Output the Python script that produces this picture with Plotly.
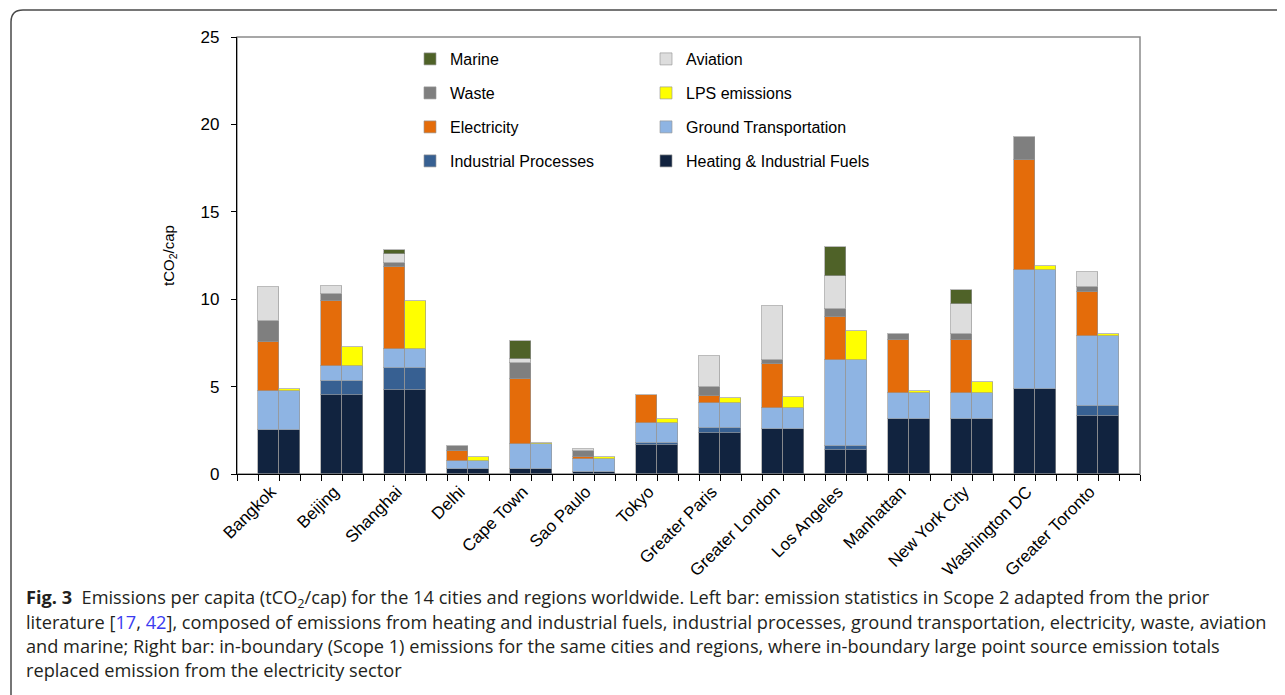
import plotly.graph_objects as go

cities = ["Bangkok", "Beijing", "Shanghai", "Delhi", "Cape Town", "Sao Paulo", "Tokyo",
          "Greater Paris", "Greater London", "Los Angeles", "Manhattan", "New York City",
          "Washington DC", "Greater Toronto"]

heating = [2.50, 4.52, 4.82, 0.30, 0.30, 0.13, 1.68, 2.33, 2.59, 1.39, 3.15, 3.15, 4.85, 3.32]
industrial = [0, 0.80, 1.24, 0, 0, 0, 0.11, 0.32, 0, 0.21, 0, 0, 0, 0.57]
ground = [2.25, 0.88, 1.11, 0.43, 1.42, 0.71, 1.14, 1.39, 1.20, 4.90, 1.50, 1.50, 6.84, 4.02]
electricity = [2.78, 3.70, 4.67, 0.59, 3.71, 0.15, 1.59, 0.44, 2.50, 2.46, 3.02, 3.02, 6.29, 2.49]
waste = [1.24, 0.40, 0.23, 0.30, 0.90, 0.33, 0, 0.50, 0.23, 0.48, 0.36, 0.36, 1.32, 0.32]
aviation = [1.93, 0.44, 0.53, 0, 0.27, 0.09, 0, 1.77, 3.11, 1.87, 0, 1.71, 0, 0.82]
marine = [0, 0, 0.20, 0, 0.99, 0, 0, 0, 0, 1.69, 0, 0.77, 0, 0]
lps = [0.12, 1.08, 2.73, 0.26, 0.05, 0.13, 0.23, 0.33, 0.61, 1.66, 0.08, 0.63, 0.21, 0.08]

y_ticks = [0, 5, 10, 15, 20, 25]

# slot layout: one empty slot, then (left bar, right bar, gap) per city
left_x = [1 + 3 * i for i in range(len(cities))]
right_x = [2 + 3 * i for i in range(len(cities))]
center_x = [1.5 + 3 * i for i in range(len(cities))]

# page body has an 8px margin; size the figure so it fits the window exactly
OFF = 8
W, H = 1285 - OFF, 695 - OFF
# plot area in window pixels
L, R, T, B = 237, 1140, 37, 474


def px(xp):
    return (xp - L) / (R - L)


def py(yp):
    return (B - yp) / (B - T)


def nz(vals):
    return [v if v > 0 else None for v in vals]


edge = dict(color="rgba(150,150,150,0.65)", width=1)

series = [
    # name, values, bars, color, legend, rank
    ("Heating & Industrial Fuels", heating, "both", "#11233F", "legend2", 4),
    ("Industrial Processes", industrial, "both", "#376092", "legend", 4),
    ("Ground Transportation", ground, "both", "#8EB4E3", "legend2", 3),
    ("Electricity", electricity, "left", "#E46C0A", "legend", 3),
    ("LPS emissions", lps, "right", "#FFFF00", "legend2", 2),
    ("Waste", waste, "left", "#7F7F7F", "legend", 2),
    ("Aviation", aviation, "left", "#DDDDDD", "legend2", 1),
    ("Marine", marine, "left", "#4F6228", "legend", 1),
]

fig = go.Figure()
for name, vals, which, color, lg, rank in series:
    if which == "both":
        xs = left_x + right_x
        ys = nz(vals) + nz(vals)
    elif which == "left":
        xs = left_x
        ys = nz(vals)
    else:
        xs = right_x
        ys = nz(vals)
    fig.add_trace(go.Bar(
        x=xs, y=ys, name=name, width=1.0,
        marker=dict(color=color, line=edge),
        legend=lg, legendgroup=name, legendrank=rank,
        hoverinfo="skip",
    ))

legend_common = dict(
    traceorder="grouped", tracegroupgap=10.2,
    font=dict(family="Liberation Sans, Arial, sans-serif", size=16, color="#000000"),
    bgcolor="rgba(0,0,0,0)", itemwidth=30, xanchor="left", yanchor="top",
)

caption_lines = [
    "<b>Fig. 3</b>  Emissions per capita (tCO<sub>2</sub>/cap) for the 14 cities and regions worldwide. "
    "Left bar: emission statistics in Scope 2 adapted from the prior",
    "literature [<span style='color:#3b3bf0'>17</span>, <span style='color:#3b3bf0'>42</span>], "
    "composed of emissions from heating and industrial fuels, industrial processes, ground transportation, "
    "electricity, waste, aviation",
    "and marine; Right bar: in-boundary (Scope 1) emissions for the same cities and regions, "
    "where in-boundary large point source emission totals",
    "replaced emission from the electricity sector",
]
caption_y = [598, 622, 646, 670]

annotations = []
for txt, yy in zip(caption_lines, caption_y):
    annotations.append(dict(
        text=txt, x=px(24), y=py(yy), xref="paper", yref="paper",
        xanchor="left", yanchor="middle", showarrow=False, align="left",
        font=dict(family="Open Sans, Noto Sans, sans-serif", size=18.2, color="#231F20"),
    ))

r = 12
frame_path = (
    f"M {px(11)},{py(720)} L {px(11)},{py(10 + r)} "
    f"Q {px(11)},{py(10)} {px(11 + r)},{py(10)} L {px(1300)},{py(10)}"
)

fig.update_layout(
    width=W, height=H,
    margin=dict(l=L - OFF, r=W - (R - OFF), t=T - OFF, b=H - (B - OFF), pad=0),
    paper_bgcolor="white", plot_bgcolor="white",
    barmode="stack", bargap=0,
    font=dict(family="Liberation Sans, Arial, sans-serif", size=15, color="#000000"),
    showlegend=True,
    legend=dict(x=px(410), y=py(42), **legend_common),
    legend2=dict(x=px(646), y=py(42), **legend_common),
    xaxis=dict(
        range=[-0.5, 42.5], tickmode="array", tickvals=center_x, ticktext=cities,
        tickangle=-45, ticks="", showgrid=False, zeroline=False,
        showline=True, linecolor="#000000", linewidth=1.3,
        tickfont=dict(size=17), ticklabelshift=-8,
        minor=dict(tick0=-0.5, dtick=1, ticks="outside", ticklen=6,
                   tickcolor="#000000", tickwidth=1, showgrid=False),
    ),
    yaxis=dict(
        range=[0, 25], tickmode="array", tickvals=y_ticks,
        ticks="outside", ticklen=5, tickcolor="#000000", tickwidth=1,
        showgrid=False, zeroline=False, showline=True, linecolor="#000000", linewidth=1.3,
        tickfont=dict(size=17), ticklabelstandoff=8,
        title=dict(text="tCO<sub>2</sub>/cap", font=dict(size=15), standoff=22),
    ),
    shapes=[
        dict(type="rect", xref="paper", yref="paper", x0=0, x1=1, y0=0, y1=1,
             line=dict(color="#8A8A8A", width=1.5), layer="below"),
        dict(type="path", xref="paper", yref="paper", path=frame_path,
             line=dict(color="#4A4A4A", width=1.5)),
    ],
    annotations=annotations,
)

fig.write_html("out.html")
